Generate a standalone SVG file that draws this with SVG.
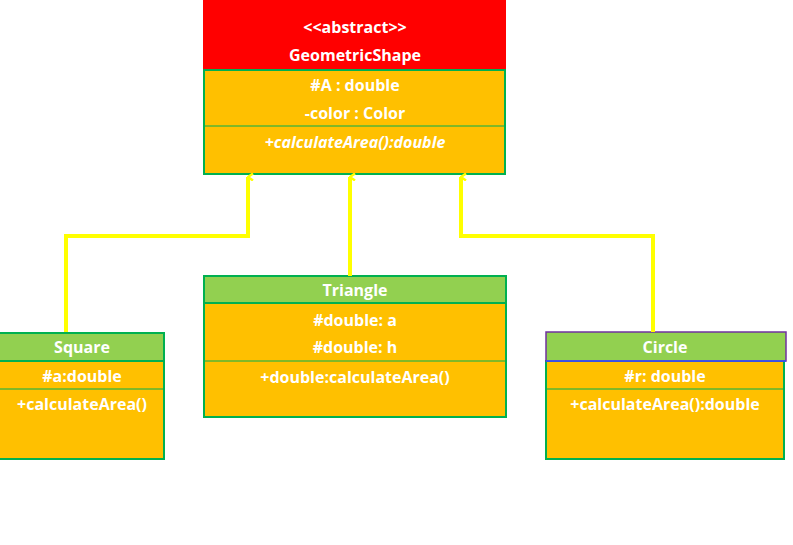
<svg xmlns="http://www.w3.org/2000/svg" width="793" height="545" viewBox="0 0 793 545">
<style>
text{font-family:"Open Sans","Liberation Sans",sans-serif;font-weight:bold;font-size:16px;fill:#fff;text-anchor:middle}
.b{fill:#FFC000;stroke:#00B050;stroke-width:2}
.h{fill:#92D050;stroke:#00B050;stroke-width:2}
.d{stroke:#00B050;stroke-width:1}
.c{fill:none;stroke:#FFFF00;stroke-width:4}
</style>
<defs><marker id="a" markerWidth="8" markerHeight="8" refX="4" refY="1" orient="auto-start-reverse" markerUnits="userSpaceOnUse" viewBox="0 0 8 8"><path d="M0.5,6 L4,1 L7.5,6" fill="none" stroke="#FFFF00" stroke-width="2.5"/></marker></defs>
<rect width="793" height="545" fill="#fff"/>
<g id="GeometricShape">
<rect x="203" y="0" width="303" height="70" fill="#FF0000"/>
<rect class="b" x="204" y="70" width="301" height="104"/>
<line class="d" x1="204" y1="126" x2="505" y2="126"/>
<text x="355" y="33">&lt;&lt;abstract&gt;&gt;</text>
<text x="355" y="61">GeometricShape</text>
<text x="355" y="91">#A : double</text>
<text x="355" y="119">-color : Color</text>
<text x="355" y="148" font-style="italic">+calculateArea():double</text>
</g>
<g id="Square">
<rect class="h" x="-1" y="333" width="165" height="28"/>
<rect class="b" x="-1" y="361" width="165" height="98"/>
<line class="d" x1="0" y1="389" x2="164" y2="389"/>
<text x="82" y="353">Square</text>
<text x="82" y="382">#a:double</text>
<text x="82" y="410">+calculateArea()</text>
</g>
<g id="Triangle">
<rect class="h" x="204" y="276" width="302" height="27"/>
<rect class="b" x="204" y="303" width="302" height="114"/>
<line class="d" x1="204" y1="361" x2="506" y2="361"/>
<text x="355" y="296">Triangle</text>
<text x="355" y="326">#double: a</text>
<text x="355" y="353">#double: h</text>
<text x="355" y="383">+double:calculateArea()</text>
</g>
<g id="Circle">
<rect class="b" x="546" y="361" width="238" height="98"/>
<rect x="546" y="332" width="240" height="29" fill="#92D050" stroke="#7030A0" stroke-width="1.5"/>
<line x1="546" y1="361" x2="786" y2="361" stroke="#3050FF" stroke-width="1.5"/>
<line class="d" x1="546" y1="389" x2="784" y2="389"/>
<text x="665" y="353">Circle</text>
<text x="665" y="382">#r: double</text>
<text x="665" y="410">+calculateArea():double</text>
</g>
<g id="connectors">
<polyline class="c" points="66,332 66,236 248,236 248,177" marker-end="url(#a)"/>
<polyline class="c" points="350,276 350,177" marker-end="url(#a)"/>
<polyline class="c" points="653,332 653,236 461,236 461,177" marker-end="url(#a)"/>
</g>
</svg>
